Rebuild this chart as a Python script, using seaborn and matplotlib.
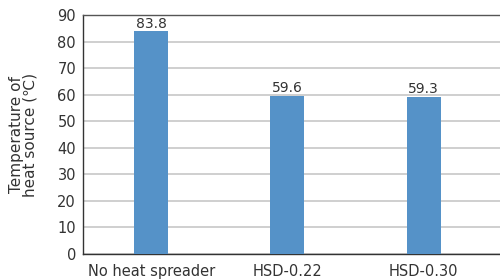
import matplotlib
matplotlib.use("Agg")
import matplotlib.pyplot as plt
import seaborn as sns
import pandas as pd

categories = ["No heat spreader", "HSD-0.22", "HSD-0.30"]
temperatures = [83.8, 59.6, 59.3]
value_labels = ["83.8", "59.6", "59.3"]
yticks = [0, 10, 20, 30, 40, 50, 60, 70, 80, 90]

sns.set_theme(style="white")
plt.rcParams['font.family'] = ['DejaVu Sans', 'Noto Sans CJK JP']

df = pd.DataFrame({"category": categories, "temp": temperatures})

fig = plt.figure(figsize=(5.0, 2.79), dpi=100)
ax = fig.add_axes([0.166, 0.0896, 0.834, 0.8566])

sns.barplot(data=df, x="category", y="temp", order=categories,
            color="#5592c8", saturation=1, width=0.25, linewidth=0,
            ax=ax, zorder=3)

ax.set_xlim(-0.5, 2.56)
ax.set_ylim(0, 90)
ax.set_yticks(yticks)
ax.yaxis.grid(True, color="#cccccc", linewidth=1.3, zorder=0)
ax.set_axisbelow(True)
for s in ["left", "bottom", "top"]:
    ax.spines[s].set_color("#333333")
    ax.spines[s].set_linewidth(1.0)
ax.spines["top"].set_color("#555555")
ax.spines["right"].set_visible(False)
ax.tick_params(axis="both", length=0, labelsize=10.5, colors="#333333")
ax.tick_params(axis="x", pad=7)
ax.tick_params(axis="y", pad=5)
ax.set_xlabel("")
ax.set_ylabel("Temperature of\nheat source (\u2103)", fontsize=11, color="#333333",
              linespacing=0.9, labelpad=14)

for i, (v, t) in enumerate(zip(temperatures, value_labels)):
    ax.text(i, v + 0.3, t, ha="center", va="bottom", fontsize=10, color="#333333")

fig.savefig("out.png", dpi=100)
